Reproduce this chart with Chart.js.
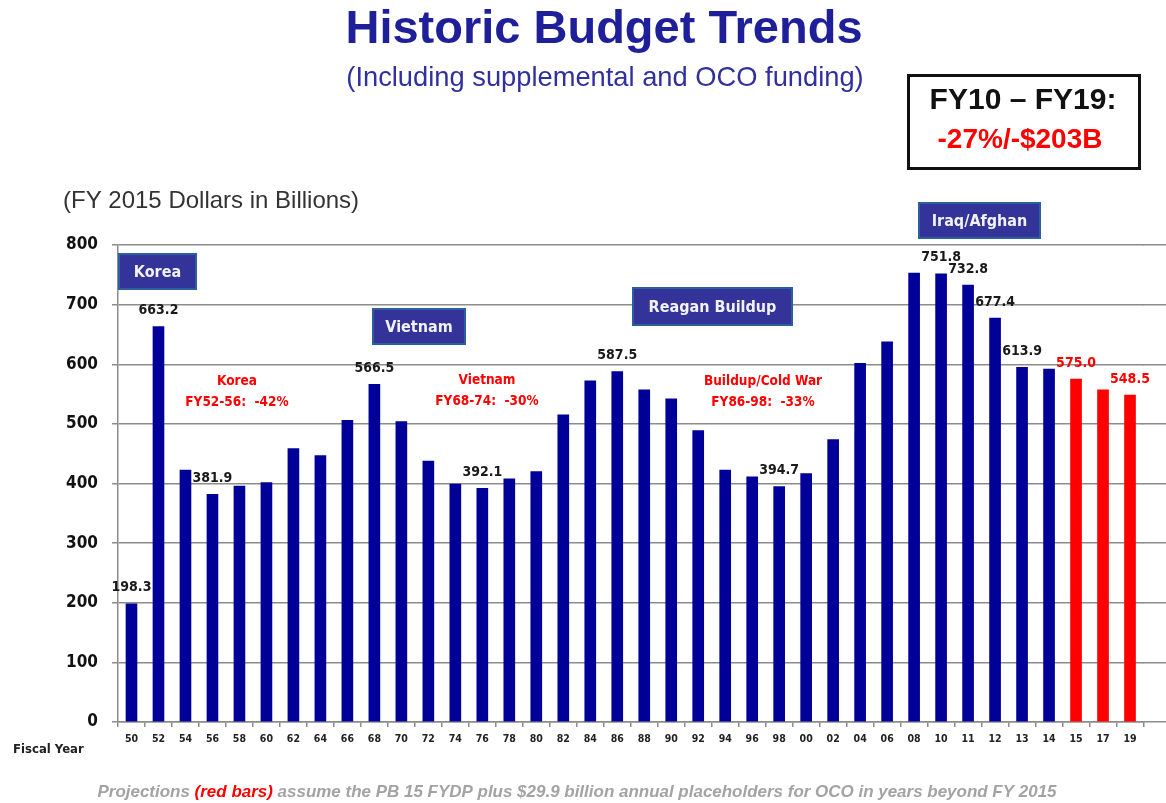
<!DOCTYPE html>
<html><head><meta charset="utf-8">
<script src="https://cdn.jsdelivr.net/npm/chart.js@4.4.0/dist/chart.umd.min.js"></script>
<style>html,body{margin:0;padding:0;background:#fff;}canvas{display:block;}</style>
</head><body>
<canvas id="c" width="1166" height="803"></canvas>
<script>
// ---------- data ----------
const fiscalYears = ['50','52','54','56','58','60','62','64','66','68','70','72','74','76','78','80','82','84','86','88','90','92','94','96','98','00','02','04','06','08','10','11','12','13','14','15','17','19'];
const budget = [198.3,663.2,422.6,381.9,395.8,401.4,458.4,446.7,506.0,566.5,503.7,437.8,399.0,392.1,408.0,419.8,515.0,572.0,587.5,557.0,541.8,488.6,422.6,411.0,394.7,416.5,473.5,601.6,637.4,752.7,751.8,732.8,677.4,595.0,592.0,575.0,557.0,548.5];
const projectedYears = ['15','17','19'];
const labelYears = ['50','52','56','68','76','86','98','10','11','12','13','15','19'];
const labelTexts = ['198.3','663.2','381.9','566.5','392.1','587.5','394.7','751.8','732.8','677.4','613.9','575.0','548.5'];
const yTicks = [0,100,200,300,400,500,600,700,800];
const eraNames = ['Korea','Vietnam','Reagan Buildup','Iraq/Afghan'];
const dropTitles = ['Korea','Vietnam','Buildup/Cold War'];
const dropTexts = ['FY52-56:  -42%','FY68-74:  -30%','FY86-98:  -33%'];

// ---------- layout (annotation placement, not data) ----------
const eraBoxLayout = [[118,253,79,37],[372,308,94,37],[632,287,161,39],[918,202,123,37]];
const dropLayout = [[237,381],[487,380],[763,381]];
const CF = "'DejaVu Sans Condensed','DejaVu Sans',sans-serif";
const AF = "'Liberation Sans',Arial,sans-serif";

const colors = fiscalYears.map(y => projectedYears.includes(y) ? '#ff0000' : '#000099');

const overlay = {
  id: 'overlay',
  beforeDatasetsDraw(chart) {
    const ctx = chart.ctx, ys = chart.scales.y, ca = chart.chartArea;
    ctx.save();
    ctx.strokeStyle = '#8c8c8c'; ctx.lineWidth = 1.5;
    yTicks.forEach(v => {
      const p = ys.getPixelForValue(v);
      const py = Math.round(p - 0.75) + 0.75;
      ctx.beginPath(); ctx.moveTo(ca.right - 1, py); ctx.lineTo(1166, py); ctx.stroke();
    });
    ctx.restore();
  },
  afterDatasetsDraw(chart) {
    const ctx = chart.ctx, xs = chart.scales.x, ys = chart.scales.y;
    ctx.save();
    ctx.textAlign = 'center'; ctx.textBaseline = 'middle';
    ctx.font = "bold 14px " + CF;
    labelYears.forEach((yr, k) => {
      const i = fiscalYears.indexOf(yr);
      ctx.fillStyle = projectedYears.includes(yr) ? '#ff0000' : '#1a1a1a';
      ctx.fillText(labelTexts[k], xs.getPixelForValue(i), ys.getPixelForValue(budget[i]) - 16);
    });
    eraNames.forEach((t, k) => {
      const [x, y, w, h] = eraBoxLayout[k];
      ctx.fillStyle = '#333399';
      ctx.fillRect(x, y, w, h);
      ctx.strokeStyle = '#2b5f9e'; ctx.lineWidth = 2;
      ctx.strokeRect(x + 1, y + 1, w - 2, h - 2);
      ctx.fillStyle = '#f2f2f2';
      ctx.font = "bold 16px " + CF;
      ctx.fillText(t, x + w / 2, y + h / 2 + 1);
    });
    ctx.fillStyle = '#ff0000';
    ctx.font = "bold 13.5px " + CF;
    dropTitles.forEach((t, k) => {
      const [cx, cy] = dropLayout[k];
      ctx.fillText(t, cx, cy);
      ctx.fillText(dropTexts[k], cx, cy + 21);
    });
    ctx.restore();
  },
  afterDraw(chart) {
    const ctx = chart.ctx;
    ctx.save();
    ctx.textAlign = 'center'; ctx.textBaseline = 'middle';
    ctx.fillStyle = '#1f1f99';
    ctx.font = "bold 47px " + AF;
    ctx.fillText('Historic Budget Trends', 604, 30);
    ctx.fillStyle = '#30309f';
    ctx.font = "27.3px " + AF;
    ctx.fillText('(Including supplemental and OCO funding)', 605, 78);
    ctx.strokeStyle = '#111'; ctx.lineWidth = 3;
    ctx.strokeRect(908.5, 75.5, 231, 93);
    ctx.fillStyle = '#111';
    ctx.font = "bold 30px " + AF;
    ctx.fillText('FY10 \u2013 FY19:', 1023, 101);
    ctx.fillStyle = '#ff0000';
    ctx.font = "bold 28px " + AF;
    ctx.fillText('-27%/-$203B', 1020, 140);
    ctx.textAlign = 'left';
    ctx.fillStyle = '#333';
    ctx.font = "24px " + AF;
    ctx.fillText('(FY 2015 Dollars in Billions)', 63, 201);
    ctx.fillStyle = '#222';
    ctx.font = "bold 13px " + CF;
    ctx.fillText('Fiscal Year', 13, 750);
    // footer, sized to span the reference width
    const parts = [
      ['Projections ', '#a3a3a3'],
      ['(red bars)', '#ff0000'],
      [' assume the PB 15 FYDP plus $29.9 billion annual placeholders for OCO in years beyond FY 2015', '#a3a3a3']
    ];
    const target = 960;
    let size = 15, total = 0;
    const measure = s => { ctx.font = "italic bold " + s + "px " + AF; return parts.reduce((a, p) => a + ctx.measureText(p[0]).width, 0); };
    total = measure(size);
    size = size * target / total;
    total = measure(size);
    let x = 577 - total / 2;
    parts.forEach(p => { ctx.fillStyle = p[1]; ctx.fillText(p[0], x, 792); x += ctx.measureText(p[0]).width; });
    ctx.restore();
  }
};

new Chart(document.getElementById('c'), {
  type: 'bar',
  data: {
    labels: fiscalYears,
    datasets: [{ data: budget, backgroundColor: colors, barThickness: 11, borderWidth: 0 }]
  },
  options: {
    responsive: false, animation: false, devicePixelRatio: 1,
    layout: { padding: { top: 245, right: 22.5, bottom: 0, left: 0 } },
    plugins: { legend: { display: false }, tooltip: { enabled: false }, title: { display: false } },
    scales: {
      x: {
        afterFit(s) { s.height = 81; },
        grid: { display: true, drawOnChartArea: false, drawTicks: true, tickLength: 5, offset: true, color: '#8c8c8c', lineWidth: 1.5 },
        border: { display: true, color: '#8c8c8c', width: 1.5 },
        ticks: { autoSkip: false, maxRotation: 0, minRotation: 0, padding: 6, color: '#222', font: { family: CF, size: 10.5, weight: 'bold' } }
      },
      y: {
        min: 0, max: 800,
        afterFit(s) { s.width = 118; },
        afterBuildTicks(s) { s.ticks = yTicks.map(v => ({ value: v })); },
        grid: { color: '#8c8c8c', lineWidth: 1.5, tickLength: 6, drawTicks: true },
        border: { display: true, color: '#8c8c8c', width: 1.5 },
        ticks: { padding: 14, color: '#111', font: { family: CF, size: 17, weight: 'bold' } }
      }
    }
  },
  plugins: [overlay]
});
</script>
</body></html>
